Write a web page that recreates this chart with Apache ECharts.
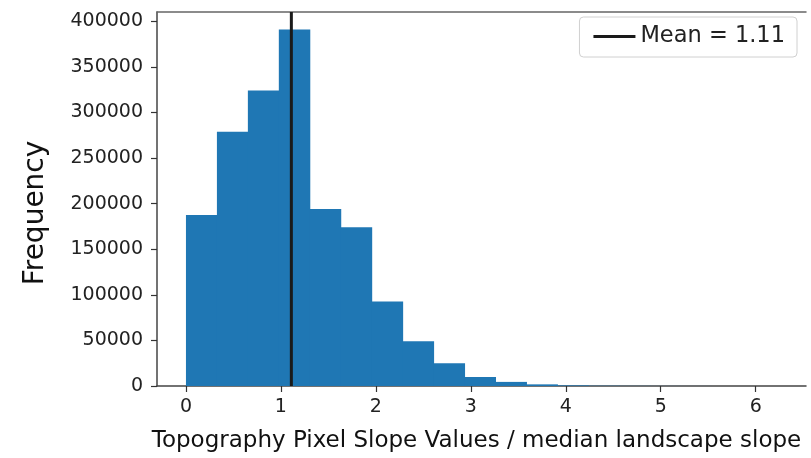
<!DOCTYPE html>
<html>
<head>
<meta charset="utf-8">
<script src="https://cdn.jsdelivr.net/npm/echarts@6/dist/echarts.min.js"></script>
<style>
html,body{margin:0;padding:0;background:#fff;}
#chart{width:811px;height:458px;}
</style>
</head>
<body>
<div id="chart"></div>
<script>
// Histogram bin edges (x units) and counts per bin
const binEdges = [0, 0.326, 0.652, 0.978, 1.304, 1.63, 1.956, 2.282, 2.608, 2.934, 3.26,
                  3.586, 3.912, 4.238, 4.564, 4.89, 5.216, 5.542, 5.868, 6.194, 6.52];
const counts = [187600, 278800, 324100, 391000, 194200, 174200, 92600, 49000, 25000, 9800,
                4500, 1800, 700, 300, 150, 80, 40, 20, 10, 5];
const meanValue = [1.11];
const meanLabel = 'Mean = 1.11';
const xTicks = [0, 1, 2, 3, 4, 5, 6];
const yTicks = [0, 50000, 100000, 150000, 200000, 250000, 300000, 350000, 400000];
const xTitle = 'Topography Pixel Slope Values / median landscape slope';
const yTitle = 'Frequency';

const FONT = 'DejaVu Sans';
const xMin = -0.305, xMax = 6.53, yMax = 410100;

const histData = counts.map((c, i) => [binEdges[i], binEdges[i + 1], c]);

const chart = echarts.init(document.getElementById('chart'), null, {renderer: 'canvas'});
chart.setOption({
  animation: false,
  backgroundColor: '#fff',
  grid: {left: 157, right: 5, top: 12, bottom: 70, containLabel: false},
  xAxis: [{
    type: 'value', min: xMin, max: xMax,
    axisLine: {show: true, onZero: false, lineStyle: {color: '#444', width: 1.5}},
    axisTick: {show: true, length: 6, lineStyle: {color: '#333', width: 1.2}, customValues: xTicks},
    axisLabel: {customValues: xTicks, fontFamily: FONT, fontSize: 19, color: '#222', margin: 12,
                formatter: v => String(v)},
    splitLine: {show: false},
    name: xTitle, nameLocation: 'middle', nameGap: 44,
    nameTextStyle: {fontFamily: FONT, fontSize: 23, color: '#111', padding: [0, 10, 0, 0]}
  }, {
    type: 'value', min: xMin, max: xMax, position: 'top',
    axisLine: {show: true, onZero: false, lineStyle: {color: '#666', width: 1.5}},
    axisTick: {show: false}, axisLabel: {show: false}, splitLine: {show: false}
  }],
  yAxis: {
    type: 'value', min: 0, max: yMax,
    axisLine: {show: true, onZero: false, lineStyle: {color: '#444', width: 1.5}},
    axisTick: {show: true, length: 6, lineStyle: {color: '#333', width: 1.2}, customValues: yTicks},
    axisLabel: {customValues: yTicks, fontFamily: FONT, fontSize: 19, color: '#222', margin: 14,
                formatter: v => String(v)},
    splitLine: {show: false}
  },
  legend: {
    right: 14, top: 17,
    data: [{name: meanLabel, icon: 'rect'}],
    itemWidth: 42, itemHeight: 3, itemGap: 10,
    padding: [8, 12, 9, 14],
    borderColor: '#d0d0d0', borderWidth: 1, borderRadius: 4,
    backgroundColor: 'rgba(255,255,255,0.85)',
    textStyle: {fontFamily: FONT, fontSize: 22.5, color: '#222'}
  },
  graphic: [{
    type: 'text', x: 36, y: 213, rotation: Math.PI / 2,
    style: {text: yTitle, font: '28px "DejaVu Sans"', fill: '#111', textAlign: 'center', textVerticalAlign: 'middle'}
  }],
  series: [{
    type: 'custom',
    name: 'hist',
    data: histData,
    encode: {x: [0, 1], y: 2},
    renderItem: function (params, api) {
      const p0 = api.coord([api.value(0), 0]);
      const p1 = api.coord([api.value(1), api.value(2)]);
      return {
        type: 'rect',
        shape: {x: p0[0], y: p1[1], width: p1[0] - p0[0] + 0.5, height: p0[1] - p1[1]},
        style: {fill: '#1f77b4'}
      };
    },
    z: 2
  }, {
    type: 'line',
    name: meanLabel,
    data: [[meanValue[0], 0], [meanValue[0], yMax]],
    symbol: 'none',
    lineStyle: {color: '#1a1a1a', width: 3},
    itemStyle: {color: '#1a1a1a'},
    z: 3
  }]
});
</script>
</body>
</html>
